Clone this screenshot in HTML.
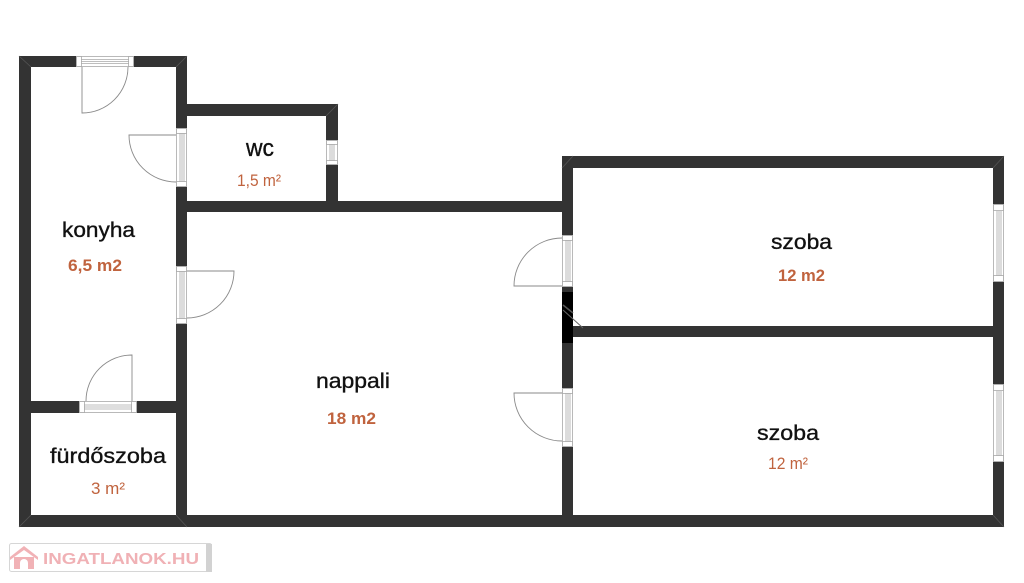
<!DOCTYPE html>
<html>
<head>
<meta charset="utf-8">
<style>
html,body{margin:0;padding:0;background:#fff;}
svg{display:block;}
.n{font-family:"Liberation Sans",sans-serif;font-size:21px;fill:#111;stroke:#111;stroke-width:0.35px;}
.a{font-family:"Liberation Sans",sans-serif;font-size:17px;fill:#c0633e;}
.ab{font-family:"Liberation Sans",sans-serif;font-size:17px;font-weight:bold;fill:#c0633e;}
</style>
</head>
<body>
<svg width="1024" height="583" viewBox="0 0 1024 583" xmlns="http://www.w3.org/2000/svg">
<rect width="1024" height="583" fill="#fff"/>
<g fill="#333333">
  <rect x="19" y="56" width="57" height="11"/>
  <rect x="134" y="56" width="53" height="11"/>
  <rect x="19" y="56" width="12" height="471"/>
  <rect x="176" y="56" width="11" height="72"/>
  <rect x="176" y="187" width="11" height="79"/>
  <rect x="176" y="324" width="11" height="203"/>
  <rect x="176" y="104" width="162" height="12"/>
  <rect x="326" y="104" width="12" height="36"/>
  <rect x="326" y="165" width="12" height="47"/>
  <rect x="176" y="201" width="397" height="11"/>
  <rect x="19" y="401" width="60" height="12"/>
  <rect x="137" y="401" width="50" height="12"/>
  <rect x="19" y="515" width="985" height="12"/>
  <rect x="562" y="156" width="11" height="79"/>
  <rect x="562" y="287" width="11" height="101"/>
  <rect x="562" y="447" width="11" height="80"/>
  <rect x="562" y="156" width="442" height="12"/>
  <rect x="993" y="156" width="11" height="48"/>
  <rect x="993" y="282" width="11" height="102"/>
  <rect x="993" y="462" width="11" height="65"/>
  <rect x="573" y="326" width="431" height="11"/>
</g>
<rect x="562" y="292" width="11" height="51" fill="#000"/>
<line x1="563" y1="305" x2="573" y2="313" stroke="#555" stroke-width="1.5"/>
<line x1="563" y1="310" x2="583" y2="328" stroke="#666" stroke-width="1"/>

<g stroke="#555" stroke-width="0.8">
  <line x1="19" y1="56" x2="31" y2="67"/>
  <line x1="187" y1="56" x2="176" y2="67"/>
  <line x1="338" y1="104" x2="326" y2="116"/>
  <line x1="573" y1="156" x2="562" y2="168"/>
  <line x1="1004" y1="156" x2="993" y2="168"/>
  <line x1="1004" y1="527" x2="993" y2="515"/>
  <line x1="19" y1="527" x2="31" y2="515"/>
  <line x1="176" y1="515" x2="187" y2="527"/>
</g>

<g fill="#fff" stroke="#a8a8a8" stroke-width="0.8">
  <rect x="76.5" y="56.5" width="57" height="10"/>
  <rect x="76.5" y="56.5" width="5" height="10"/>
  <rect x="128.5" y="56.5" width="5" height="10"/>
  <line x1="81" y1="59.5" x2="129" y2="59.5"/>
  <line x1="81" y1="61.5" x2="129" y2="61.5"/>
  <line x1="81" y1="63.5" x2="129" y2="63.5"/>
  <rect x="79.5" y="401.5" width="57" height="11"/>
  <rect x="79.5" y="401.5" width="5" height="11"/>
  <rect x="131.5" y="401.5" width="5" height="11"/>
  <line x1="84" y1="405" x2="132" y2="405"/>
  <line x1="84" y1="407" x2="132" y2="407"/>
  <line x1="84" y1="409" x2="132" y2="409"/>
  <rect x="176.5" y="128.5" width="10" height="58"/>
  <rect x="176.5" y="128.5" width="10" height="5"/>
  <rect x="176.5" y="181.5" width="10" height="5"/>
  <line x1="180" y1="133" x2="180" y2="182"/>
  <line x1="182" y1="133" x2="182" y2="182"/>
  <line x1="184" y1="133" x2="184" y2="182"/>
  <rect x="176.5" y="266.5" width="10" height="57"/>
  <rect x="176.5" y="266.5" width="10" height="5"/>
  <rect x="176.5" y="318.5" width="10" height="5"/>
  <line x1="180" y1="271" x2="180" y2="319"/>
  <line x1="182" y1="271" x2="182" y2="319"/>
  <line x1="184" y1="271" x2="184" y2="319"/>
  <rect x="326.5" y="140.5" width="11" height="24"/>
  <rect x="326.5" y="140.5" width="11" height="4"/>
  <rect x="326.5" y="160.5" width="11" height="4"/>
  <line x1="330" y1="144" x2="330" y2="161"/>
  <line x1="332" y1="144" x2="332" y2="161"/>
  <line x1="334" y1="144" x2="334" y2="161"/>
  <rect x="562.5" y="235.5" width="10" height="51"/>
  <rect x="562.5" y="235.5" width="10" height="5"/>
  <rect x="562.5" y="281.5" width="10" height="5"/>
  <line x1="566" y1="240" x2="566" y2="282"/>
  <line x1="568" y1="240" x2="568" y2="282"/>
  <line x1="570" y1="240" x2="570" y2="282"/>
  <rect x="562.5" y="388.5" width="10" height="58"/>
  <rect x="562.5" y="388.5" width="10" height="5"/>
  <rect x="562.5" y="441.5" width="10" height="5"/>
  <line x1="566" y1="393" x2="566" y2="442"/>
  <line x1="568" y1="393" x2="568" y2="442"/>
  <line x1="570" y1="393" x2="570" y2="442"/>
  <rect x="993.5" y="204.5" width="10" height="77"/>
  <rect x="993.5" y="204.5" width="10" height="6"/>
  <rect x="993.5" y="275.5" width="10" height="6"/>
  <line x1="997" y1="211" x2="997" y2="276"/>
  <line x1="999" y1="211" x2="999" y2="276"/>
  <line x1="1001" y1="211" x2="1001" y2="276"/>
  <rect x="993.5" y="384.5" width="10" height="77"/>
  <rect x="993.5" y="384.5" width="10" height="6"/>
  <rect x="993.5" y="455.5" width="10" height="6"/>
  <line x1="997" y1="391" x2="997" y2="456"/>
  <line x1="999" y1="391" x2="999" y2="456"/>
  <line x1="1001" y1="391" x2="1001" y2="456"/>
</g>

<g fill="none" stroke="#8a8a8a" stroke-width="0.9">
  <path d="M82,67 L82,113 A46,46 0 0 0 128,67"/>
  <path d="M176,135 L129,135 A47,47 0 0 0 176,182"/>
  <path d="M187,271 L234,271 A47,47 0 0 1 187,318"/>
  <path d="M132,401 L132,355 A46,46 0 0 0 86,401"/>
  <path d="M562,286 L514,286 A48,48 0 0 1 562,238"/>
  <path d="M562,393 L514,393 A48,48 0 0 0 562,441"/>
</g>

<text class="n" x="246" y="156" font-size="24" style="font-size:24px" textLength="28" lengthAdjust="spacingAndGlyphs">wc</text>
<text class="a" x="237" y="186" textLength="44" lengthAdjust="spacingAndGlyphs">1,5 m²</text>

<text class="n" x="62" y="237" textLength="73" lengthAdjust="spacingAndGlyphs">konyha</text>
<text class="ab" x="68" y="271" textLength="54" lengthAdjust="spacingAndGlyphs">6,5 m2</text>

<text class="n" x="50" y="463" textLength="116" lengthAdjust="spacingAndGlyphs">fürdőszoba</text>
<text class="a" x="91" y="494" textLength="34" lengthAdjust="spacingAndGlyphs">3 m²</text>

<text class="n" x="316" y="388" textLength="74" lengthAdjust="spacingAndGlyphs">nappali</text>
<text class="ab" x="327" y="424" textLength="49" lengthAdjust="spacingAndGlyphs">18 m2</text>

<text class="n" x="771" y="249" textLength="61" lengthAdjust="spacingAndGlyphs">szoba</text>
<text class="ab" x="778" y="281" textLength="47" lengthAdjust="spacingAndGlyphs">12 m2</text>

<text class="n" x="757" y="440" textLength="62" lengthAdjust="spacingAndGlyphs">szoba</text>
<text class="a" x="768" y="469" textLength="40" lengthAdjust="spacingAndGlyphs">12 m²</text>

<rect x="9.5" y="543.5" width="202" height="28" rx="2" fill="#fff" stroke="#d6d6d6"/>
<rect x="206" y="544" width="6" height="28" fill="#d2d2d2"/>
<polygon points="10,557 24,546 38,557 38,560 24,550 10,560" fill="#f1b2b6"/>
<rect x="14" y="557" width="20" height="12" fill="#f1b2b6"/>
<path d="M20,569 L20,563 A4,4 0 0 1 28,563 L28,569 Z" fill="#fff"/>
<text x="43" y="564" font-family="Liberation Sans, sans-serif" font-weight="bold" font-size="16" fill="#f0b1b5" textLength="156" lengthAdjust="spacingAndGlyphs">INGATLANOK.HU</text>
</svg>
</body>
</html>
